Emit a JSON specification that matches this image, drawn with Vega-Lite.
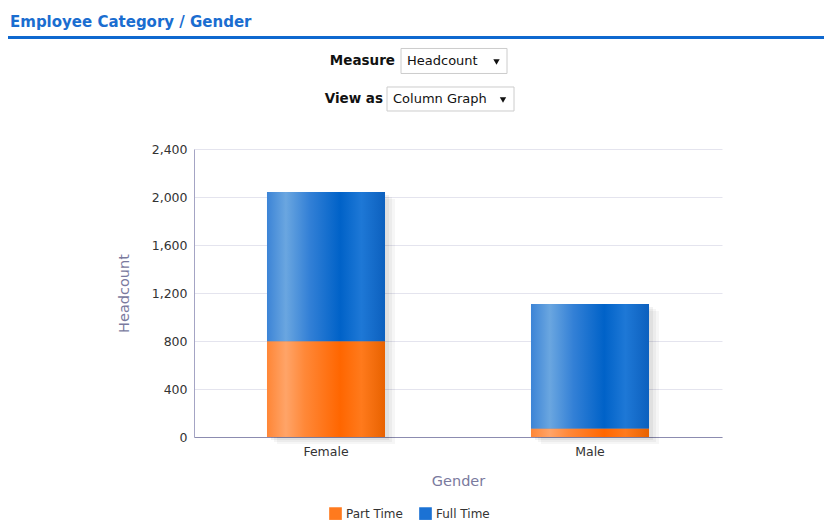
{
  "$schema": "https://vega.github.io/schema/vega-lite/v6.json",
  "padding": {"left": 8, "top": 15, "right": 0, "bottom": 0},
  "background": "white",
  "spacing": 0,
  "config": {"view": {"stroke": null}},
  "datasets": {
    "header": [{"title": "Employee Category / Gender"}],
    "controls": [
      {"control": "Measure", "value": "Headcount"},
      {"control": "View as", "value": "Column Graph"}
    ],
    "headcount": [
      {"Gender": "Female", "Category": "Part Time", "Headcount": 798},
      {"Gender": "Female", "Category": "Full Time", "Headcount": 1244},
      {"Gender": "Male", "Category": "Part Time", "Headcount": 70},
      {"Gender": "Male", "Category": "Full Time", "Headcount": 1038}
    ]
  },
  "vconcat": [
    {
      "width": 816,
      "height": 3,
      "data": {"name": "header"},
      "title": {"text": "Employee Category / Gender", "anchor": "start", "frame": "group", "font": "DejaVu Sans", "fontSize": 15, "fontWeight": "bold", "color": "#1a6dd0", "offset": 6, "dx": 2},
      "mark": {"type": "rect", "color": "#0f68cf"},
      "encoding": {}
    },
    {
      "width": 816,
      "height": 104,
      "data": {"name": "controls"},
      "encoding": {
        "y": {"field": "control", "type": "nominal", "axis": null, "scale": {"type": "point", "domain": ["Measure", "View as"], "padding": 0.868, "align": 0.333}}
      },
      "layer": [
        {
          "transform": [{"filter": "datum.control === 'Measure'"}],
          "mark": {"type": "point", "shape": "M-53,-12.5H53V12.5H-53Z", "size": 4, "filled": true, "fill": "white", "stroke": "#cccccc", "strokeWidth": 1, "opacity": 1, "xOffset": 38}
        },
        {
          "transform": [{"filter": "datum.control === 'View as'"}],
          "mark": {"type": "point", "shape": "M-63.5,-12H63.5V12H-63.5Z", "size": 4, "filled": true, "fill": "white", "stroke": "#cccccc", "strokeWidth": 1, "opacity": 1, "xOffset": 34.5}
        },
        {
          "transform": [{"filter": "datum.control === 'Measure'"}],
          "mark": {"type": "text", "align": "right", "baseline": "middle", "dx": -21, "font": "DejaVu Sans", "fontSize": 13.5, "fontWeight": "bold", "color": "#111111"},
          "encoding": {"text": {"field": "control"}}
        },
        {
          "transform": [{"filter": "datum.control === 'View as'"}],
          "mark": {"type": "text", "align": "right", "baseline": "middle", "dx": -33, "font": "DejaVu Sans", "fontSize": 13.5, "fontWeight": "bold", "color": "#111111"},
          "encoding": {"text": {"field": "control"}}
        },
        {
          "transform": [{"filter": "datum.control === 'Measure'"}],
          "mark": {"type": "text", "align": "left", "baseline": "middle", "dx": -9, "font": "DejaVu Sans", "fontSize": 13, "color": "#111111"},
          "encoding": {"text": {"field": "value"}}
        },
        {
          "transform": [{"filter": "datum.control === 'View as'"}],
          "mark": {"type": "text", "align": "left", "baseline": "middle", "dx": -23, "font": "DejaVu Sans", "fontSize": 13, "color": "#111111"},
          "encoding": {"text": {"field": "value"}}
        },
        {
          "transform": [{"filter": "datum.control === 'Measure'"}],
          "mark": {"type": "point", "shape": "triangle-down", "size": 40, "filled": true, "color": "#111111", "opacity": 1, "xOffset": 80.5, "yOffset": 1}
        },
        {
          "transform": [{"filter": "datum.control === 'View as'"}],
          "mark": {"type": "point", "shape": "triangle-down", "size": 40, "filled": true, "color": "#111111", "opacity": 1, "xOffset": 87, "yOffset": 1}
        }
      ]
    },
    {
      "spacing": 107,
      "hconcat": [
        {
          "width": 1,
          "height": 1,
          "data": {"name": "header"},
          "mark": {"type": "rect", "opacity": 0},
          "encoding": {}
        },
        {
          "width": 528,
          "height": 288,
          "data": {"name": "headcount"},
          "encoding": {
            "x": {
              "field": "Gender", "type": "nominal",
              "scale": {"paddingInner": 0.553, "paddingOuter": 0.2765},
              "axis": {"labelAngle": 0, "title": "Gender", "titleColor": "#7a7a9e", "titleFont": "DejaVu Sans", "titleFontSize": 14.5, "titleFontWeight": "normal", "titlePadding": 17, "labelColor": "#333333", "labelFont": "DejaVu Sans", "labelFontSize": 12.5, "labelPadding": 8, "ticks": false, "domainColor": "#8c8cb0", "domainWidth": 1}
            },
            "y": {
              "field": "Headcount", "type": "quantitative", "stack": "zero",
              "scale": {"domain": [0, 2400], "nice": false},
              "axis": {"values": [0, 400, 800, 1200, 1600, 2000, 2400], "format": ",.0f", "title": "Headcount", "titleColor": "#7a7a9e", "titleFont": "DejaVu Sans", "titleFontSize": 14.5, "titleFontWeight": "normal", "titlePadding": 20, "labelColor": "#333333", "labelFont": "DejaVu Sans", "labelFontSize": 12.5, "labelPadding": 7, "ticks": false, "domainColor": "#a4a4c4", "gridColor": "#e4e4ee", "gridWidth": 1}
            },
            "detail": {"field": "Category"},
            "order": {"field": "Category", "sort": "descending"}
          },
          "layer": [
            {"mark": {"type": "bar", "fill": "#000000", "opacity": 0.035, "xOffset": 10, "yOffset": 7}},
            {"mark": {"type": "bar", "fill": "#000000", "opacity": 0.04, "xOffset": 7, "yOffset": 5}},
            {"mark": {"type": "bar", "fill": "#000000", "opacity": 0.05, "xOffset": 4, "yOffset": 3}},
            {
              "mark": {"type": "bar"},
              "encoding": {
                "color": {
                  "field": "Category", "type": "nominal",
                  "scale": {"domain": ["Part Time", "Full Time"], "range": ["#ff7a1e", "#1b72d4"]},
                  "legend": {"orient": "none", "legendX": 321, "legendY": 471, "direction": "horizontal", "title": null, "symbolType": "square", "symbolSize": 160, "symbolStrokeWidth": 0, "labelFont": "DejaVu Sans", "labelFontSize": 12, "labelColor": "#333333", "columnPadding": 16}
                }
              }
            },
            {
              "mark": {"type": "bar"},
              "encoding": {
                "fill": {
                  "condition": {
                    "test": "datum.Category === 'Part Time'",
                    "value": {"gradient": "linear", "x1": 0, "y1": 0, "x2": 1, "y2": 0, "stops": [
                      {"offset": 0, "color": "#ff8636"},
                      {"offset": 0.16, "color": "#ffa468"},
                      {"offset": 0.32, "color": "#ff8838"},
                      {"offset": 0.62, "color": "#ff6600"},
                      {"offset": 0.8, "color": "#ff7a1c"},
                      {"offset": 1, "color": "#e86200"}
                    ]}
                  },
                  "value": {"gradient": "linear", "x1": 0, "y1": 0, "x2": 1, "y2": 0, "stops": [
                    {"offset": 0, "color": "#3c84d6"},
                    {"offset": 0.16, "color": "#6aa6e0"},
                    {"offset": 0.36, "color": "#3380d6"},
                    {"offset": 0.62, "color": "#0062c8"},
                    {"offset": 0.8, "color": "#1e78d6"},
                    {"offset": 1, "color": "#0c60be"}
                  ]}
                }
              }
            }
          ]
        }
      ]
    }
  ]
}
